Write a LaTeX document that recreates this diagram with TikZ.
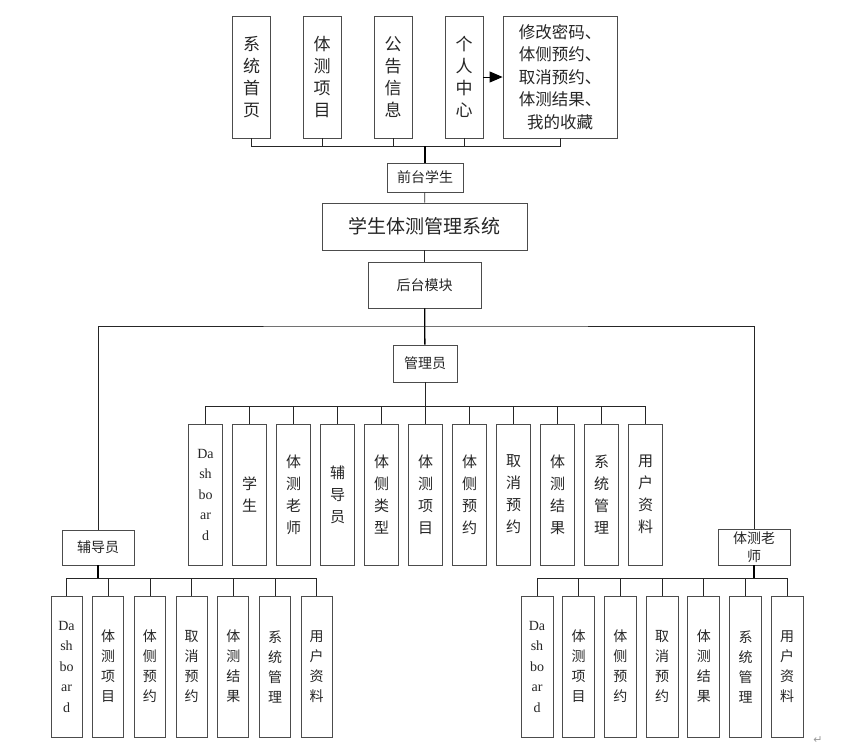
\documentclass[tikz,border=0pt]{standalone}
\usepackage{fontspec}
\newfontfamily\cjk{Noto Sans CJK SC}
\newfontfamily\latinfont{Liberation Serif}
\newfontfamily\symfont{DejaVu Sans}
\usetikzlibrary{arrows.meta}

\begin{document}
\begin{tikzpicture}[x=1pt, y=-1pt,
  every node/.style={font=\cjk, text=black!85},
  box/.style={draw=black!70, line width=0.8pt, fill=white, inner sep=0pt, align=center},
  topbox/.style={box, minimum width=38pt, minimum height=122pt, font=\cjk\fontsize{17}{22}\selectfont},
  headbox/.style={box, font=\cjk\fontsize{14}{18}\selectfont},
  midbox/.style={box, minimum width=34pt, minimum height=141pt, font=\cjk\fontsize{15}{22}\selectfont},
  lowbox/.style={box, minimum width=31pt, minimum height=141pt, font=\cjk\fontsize{14}{20}\selectfont},
  dashfont/.style={font=\latinfont\fontsize{14}{20.5}\selectfont},
  link/.style={black!85, line width=0.7pt},
  trunk/.style={black, line width=1.3pt}
]
  \useasboundingbox (0,0) rectangle (842,747);

  % front end
  \node[topbox] (t1) at (251.5,77) {系\\统\\首\\页};
  \node[topbox] (t2) at (322,77) {体\\测\\项\\目};
  \node[topbox] (t3) at (393,77) {公\\告\\信\\息};
  \node[topbox] (t4) at (464,77) {个\\人\\中\\心};
  \node[box, minimum width=114pt, minimum height=122pt, font=\cjk\fontsize{16.5}{22.5}\selectfont] (t5) at (560,77)
    {修改密码、\\体侧预约、\\取消预约、\\体测结果、\\我的收藏};
  \draw[black, line width=1pt, -{Triangle[length=13pt,width=11pt]}] (t4) -- (t5);

  \node[headbox, minimum width=76pt, minimum height=29pt] (qt) at (425,177.5) {前台学生};
  \node[box, minimum width=205pt, minimum height=47pt, font=\cjk\fontsize{19}{22}\selectfont] (sys) at (424.5,226.5) {学生体测管理系统};
  \node[headbox, minimum width=113pt, minimum height=46pt] (hm) at (424.5,285) {后台模块};
  \node[headbox, minimum width=64pt, minimum height=37pt] (adm) at (425,363.5) {管理员};
  \node[headbox, minimum width=72pt, minimum height=35pt] (fd) at (98,547.5) {辅导员};
  \node[headbox, minimum width=72pt, minimum height=36pt] (ts) at (754,547) {体测老\\师};

  \coordinate (busT) at (425,146);
  \foreach \n in {t1,t2,t3,t4,t5}
    \draw[link] (\n.south) |- (busT);
  \draw[trunk] (busT) -- (qt);
  \draw[link] (qt) -- (sys);
  \draw[link] (sys) -- (hm);

  \coordinate (split) at (425,326);
  \draw[trunk] (hm) -- (adm);
  \draw[link] (fd.north) |- (split) -| (ts.north);

  % administrator
  \node[midbox, dashfont] (m1) at (205.5,494.5) {Da\\sh\\bo\\ar\\d};
  \foreach \txt [count=\i from 2] in {学\\生, 体\\测\\老\\师, 辅\\导\\员, 体\\侧\\类\\型, 体\\测\\项\\目,
      体\\侧\\预\\约, 取\\消\\预\\约, 体\\测\\结\\果, 系\\统\\管\\理, 用\\户\\资\\料}
    \node[midbox] (m\i) at ({205.5+44*(\i-1)},494.5) {\txt};
  \coordinate (busM) at (425,406);
  \draw[link] (adm) -- (busM);
  \foreach \i in {1,...,11}
    \draw[link] (m\i.north) |- (busM);

  % counsellor and teacher
  \node[lowbox, dashfont] (l1) at (66.5,666.5) {Da\\sh\\bo\\ar\\d};
  \node[lowbox, minimum width=32pt, dashfont] (r1) at (537,666.5) {Da\\sh\\bo\\ar\\d};
  \foreach \txt [count=\i from 2] in {体\\测\\项\\目, 体\\侧\\预\\约, 取\\消\\预\\约,
      体\\测\\结\\果, 系\\统\\管\\理, 用\\户\\资\\料} {
    \node[lowbox] (l\i) at ({66.5+41.7*(\i-1)},666.5) {\txt};
    \node[lowbox, minimum width=32pt] (r\i) at ({537+41.7*(\i-1)},666.5) {\txt};
  }
  \coordinate (busL) at (98,578);
  \coordinate (busR) at (754,578);
  \draw[trunk] (fd) -- (busL);
  \draw[trunk] (ts) -- (busR);
  \foreach \i in {1,...,7} {
    \draw[link] (l\i.north) |- (busL);
    \draw[link] (r\i.north) |- (busR);
  }

  \node[font=\symfont\fontsize{11}{11}\selectfont, text=black!40] (ret) at (818,740) {↵};
\end{tikzpicture}
\end{document}
